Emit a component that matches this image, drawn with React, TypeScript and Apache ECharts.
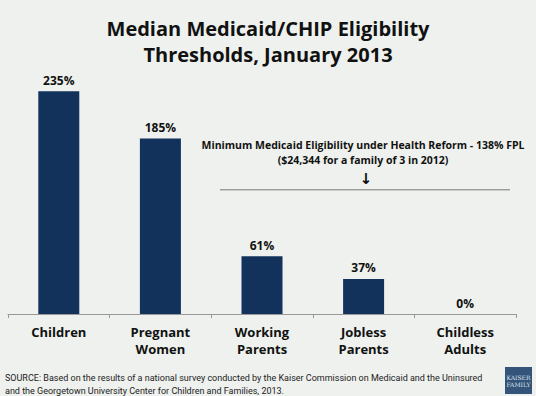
import React, { useEffect, useRef } from "react";
import * as echarts from "echarts";

const categories = ["Children", "Pregnant\nWomen", "Working\nParents", "Jobless\nParents", "Childless\nAdults"];
const values = [235, 185, 61, 37, 0];
const referenceValue = 131;
const titleText = "Median Medicaid/CHIP Eligibility\nThresholds, January 2013";
const noteLines = "Minimum Medicaid Eligibility under Health Reform - 138% FPL\n($24,344 for a family of 3 in 2012)";
const sourceText =
  "SOURCE: Based on the results of a national survey conducted by the Kaiser Commission on Medicaid and the Uninsured\nand the Georgetown University Center for Children and Families, 2013.";

const FONT = "'Open Sans', 'DejaVu Sans', sans-serif";

export default function App() {
  const ref = useRef<HTMLDivElement>(null);
  useEffect(() => {
    if (!ref.current) return;
    const chart = echarts.init(ref.current, undefined, { renderer: "svg" });
    chart.setOption({
      animation: false,
      backgroundColor: "#eef1ee",
      title: {
        text: titleText,
        left: "center",
        top: 10,
        textStyle: { fontFamily: FONT, fontWeight: "bold", fontSize: 20, lineHeight: 26, color: "#111" },
      },
      grid: { left: 8, right: 20, top: 77, bottom: 82 },
      xAxis: {
        type: "category",
        data: categories,
        axisLine: { lineStyle: { color: "#999", width: 1 } },
        axisTick: { show: true, length: 4, lineStyle: { color: "#999" } },
        axisLabel: {
          margin: 9,
          fontFamily: FONT,
          fontWeight: "bold",
          fontSize: 13,
          lineHeight: 17,
          color: "#111",
          interval: 0,
        },
      },
      yAxis: { type: "value", min: 0, max: 250, show: false, splitLine: { show: false } },
      series: [
        {
          type: "bar",
          data: values,
          barWidth: 41,
          itemStyle: { color: "#12325c" },
          label: {
            show: true,
            position: "top",
            distance: 5,
            formatter: "{c}%",
            fontFamily: FONT,
            fontWeight: "bold",
            fontSize: 12,
            color: "#111",
          },
        },
      ],
    });
    const yRef = chart.convertToPixel({ yAxisIndex: 0 }, referenceValue) as number;
    chart.setOption({
      graphic: [
        {
          type: "line",
          shape: { x1: 220, y1: yRef, x2: 510, y2: yRef },
          style: { stroke: "#777", lineWidth: 1 },
        },
        {
          type: "text",
          x: 363,
          y: 137,
          style: {
            text: noteLines,
            align: "center",
            verticalAlign: "top",
            fontFamily: FONT,
            fontWeight: "bold",
            fontSize: 10.5,
            lineHeight: 15,
            fill: "#111",
          },
        },
        {
          type: "text",
          x: 366,
          y: 179,
          style: {
            text: "↓",
            align: "center",
            verticalAlign: "middle",
            fontFamily: "'DejaVu Sans', sans-serif",
            fontWeight: "bold",
            fontSize: 15,
            fill: "#111",
          },
        },
        {
          type: "text",
          x: 5,
          y: 371,
          style: {
            text: sourceText,
            align: "left",
            verticalAlign: "top",
            fontFamily: "Roboto, sans-serif",
            fontSize: 9,
            lineHeight: 13,
            fill: "#222",
          },
        },
        {
          type: "rect",
          shape: { x: 505, y: 367, width: 27, height: 27 },
          style: { fill: "#34547a" },
        },
        {
          type: "text",
          x: 518.5,
          y: 381,
          style: {
            text: "KAISER\nFAMILY",
            align: "center",
            verticalAlign: "middle",
            fontFamily: "'DejaVu Serif', serif",
            fontSize: 6,
            lineHeight: 7,
            fill: "#dfe6ef",
          },
        },
      ],
    });
    return () => chart.dispose();
  }, []);
  return <div ref={ref} style={{ position: "fixed", left: 0, top: 0, width: 536, height: 396 }} />;
}
